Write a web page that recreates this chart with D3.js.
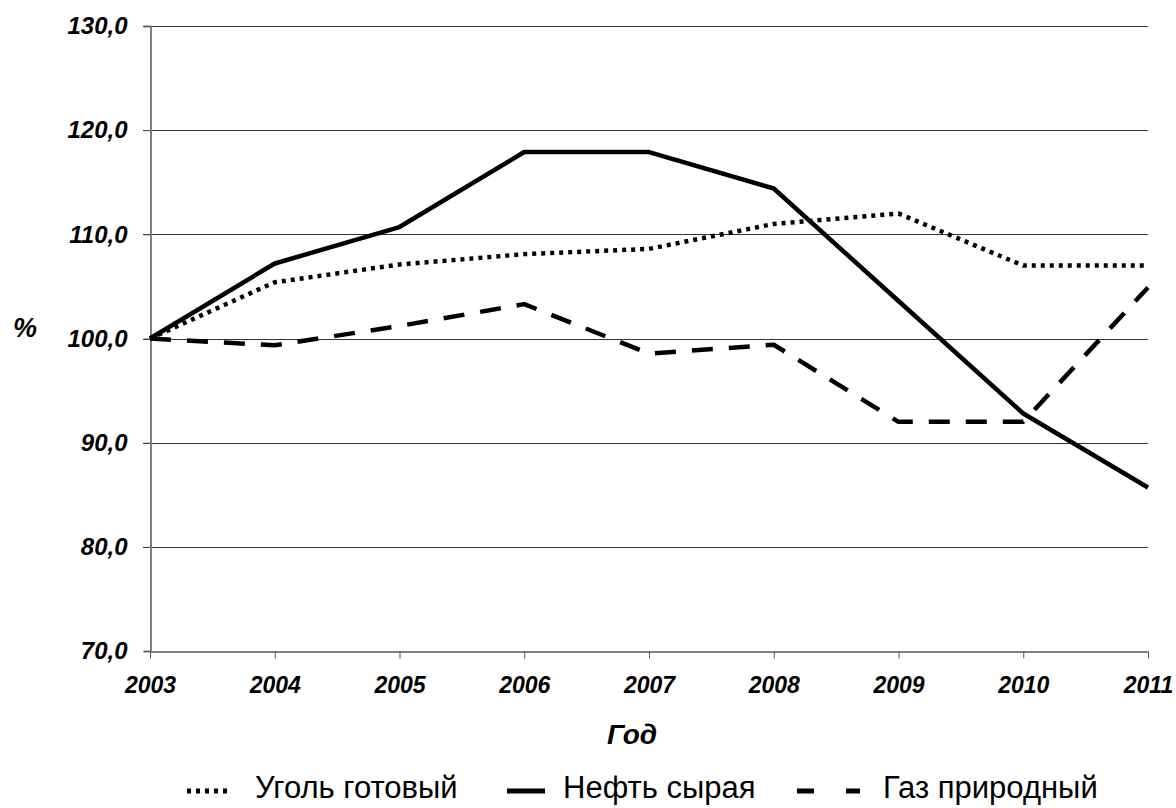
<!DOCTYPE html>
<html><head><meta charset="utf-8">
<script src="https://cdn.jsdelivr.net/npm/d3@7"></script>
<style>body{margin:0;background:#fff}svg{display:block}</style>
</head><body>
<svg id="c" width="1176" height="808"></svg>
<script>
const years = [2003, 2004, 2005, 2006, 2007, 2008, 2009, 2010, 2011];
const coal = [100.0, 105.4, 107.1, 108.1, 108.6, 111.0, 112.0, 107.0, 107.0];
const oil = [100.0, 107.2, 110.7, 117.9, 117.9, 114.4, 103.6, 92.8, 85.7];
const gas = [100.0, 99.35, 101.2, 103.3, 98.55, 99.4, 92.0, 92.0, 104.9];
const yTicks = [70, 80, 90, 100, 110, 120, 130];
const seriesNames = ["Уголь готовый", "Нефть сырая", "Газ природный"];

const svg = d3.select("#c");
const x = d3.scalePoint().domain(years).range([150, 1148]);
const y = d3.scaleLinear().domain([70, 130]).range([651, 26]);
const fmt = d => d3.format(".1f")(d).replace(".", ",");
const tickFont = "'Liberation Sans', Arial, sans-serif";

// gridlines
svg.append("g").selectAll("line").data(yTicks.filter(d => d > 70)).join("line")
  .attr("x1", 143).attr("x2", 1148)
  .attr("y1", d => Math.round(y(d)) + 0.5).attr("y2", d => Math.round(y(d)) + 0.5)
  .attr("stroke", "#333").attr("stroke-width", 1.2);

// y axis
const yAxis = svg.append("g").attr("transform", "translate(150.5,0)")
  .call(d3.axisLeft(y).tickValues(yTicks).tickSize(7).tickFormat(fmt));
yAxis.attr("font-size", null).attr("font-family", null);
yAxis.select(".domain").attr("stroke", "#808080").attr("stroke-width", 2);
yAxis.selectAll(".tick line").attr("stroke", "#555");
yAxis.selectAll("text").attr("x", -23).style("font-family", tickFont)
  .style("font-size", "24px").style("font-weight", "bold").style("font-style", "italic").attr("fill", "#000");

// x axis
const xAxis = svg.append("g").attr("transform", "translate(0,651.5)")
  .call(d3.axisBottom(x).tickSize(7).tickSizeOuter(0).tickFormat(d3.format("d")));
xAxis.attr("font-size", null).attr("font-family", null);
xAxis.select(".domain").attr("stroke", "#808080").attr("stroke-width", 2);
xAxis.selectAll(".tick line").attr("stroke", "#555");
xAxis.selectAll("text").attr("y", 25).style("font-family", tickFont)
  .style("font-size", "23px").style("font-weight", "bold").style("font-style", "italic").attr("fill", "#000");

// lines
const line = d3.line().x((d, i) => x(years[i])).y(d => y(d));
const styles = [
  {data: coal, dash: "4,5", w: 4.5},
  {data: oil, dash: null, w: 4.5},
  {data: gas, dash: "21,16", w: 4.5}
];
styles.forEach(s => {
  svg.append("path").attr("d", line(s.data)).attr("fill", "none")
    .attr("stroke", "#000").attr("stroke-width", s.w)
    .attr("stroke-dasharray", s.dash).attr("stroke-linejoin", "round");
});

// axis titles
svg.append("text").attr("x", 632).attr("y", 744).attr("text-anchor", "middle")
  .style("font-family", tickFont).style("font-size", "28px").style("font-weight", "bold")
  .style("font-style", "italic").text("Год");
svg.append("text").attr("x", 25).attr("y", 337).attr("text-anchor", "middle")
  .style("font-family", tickFont).style("font-size", "27px").style("font-weight", "bold")
  .style("font-style", "italic").text("%");

// legend
const legend = [
  {x1: 187, x2: 232, tx: 255, dash: "4,5"},
  {x1: 507, x2: 545, tx: 563, dash: null},
  {x1: 797, x2: 860, tx: 883, dash: "17,32"}
];
legend.forEach((l, i) => {
  svg.append("line").attr("x1", l.x1).attr("x2", l.x2).attr("y1", 791).attr("y2", 791)
    .attr("stroke", "#000").attr("stroke-width", 5).attr("stroke-dasharray", l.dash);
  svg.append("text").attr("x", l.tx).attr("y", 798).style("font-family", tickFont)
    .style("font-size", "31px").text(seriesNames[i]);
});
</script>
</body></html>
